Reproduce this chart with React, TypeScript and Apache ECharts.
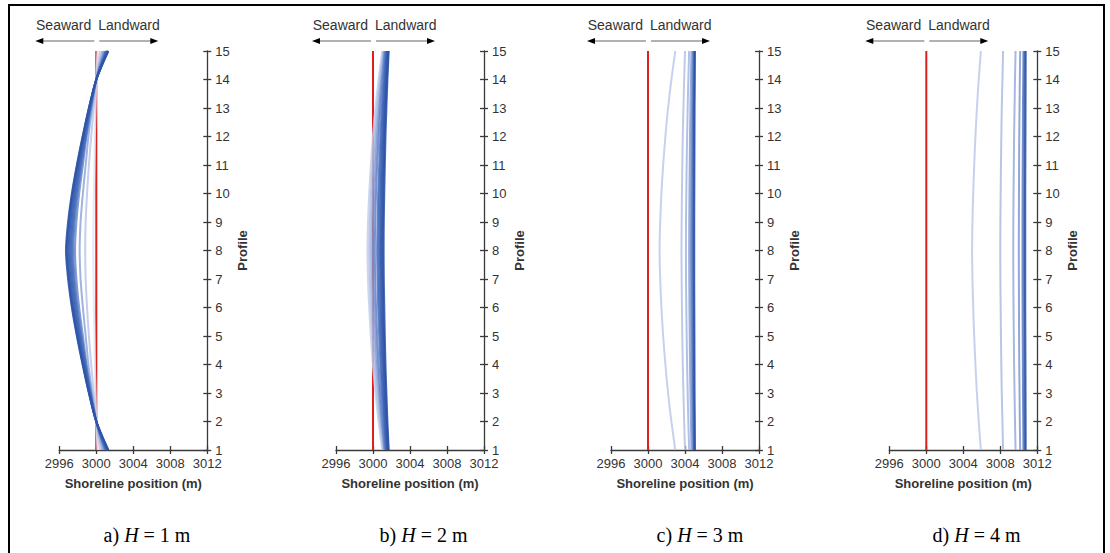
import React, { useEffect, useRef } from "react";
import * as echarts from "echarts";

// Profiles (y axis)
const profiles = [1, 2, 3, 4, 5, 6, 7, 8, 9, 10, 11, 12, 13, 14, 15];
const xMin = 2996;
const xMax = 3012;
const xStep = 4;
const initialShoreline = 3000;
const waveHeights = [1, 2, 3, 4];
const panelLetters = ["a)", "b)", "c)", "d)"];

// Shoreline positions per profile 1..15, light (early) -> dark (late)
const panelA: number[][] = [
  [3000.13, 3000, 2999.92, 2999.85, 2999.8, 2999.74, 2999.7, 2999.67, 2999.7, 2999.74, 2999.8, 2999.85, 2999.92, 3000, 3000.13],
  [3000.4, 3000, 2999.72, 2999.45, 2999.2, 2999.0, 2998.85, 2998.8, 2998.85, 2999.0, 2999.2, 2999.45, 2999.72, 3000, 3000.4],
  [3000.65, 3000, 2999.55, 2999.15, 2998.85, 2998.55, 2998.3, 2998.2, 2998.3, 2998.55, 2998.85, 2999.15, 2999.55, 3000, 3000.65],
  [3000.85, 3000, 2999.45, 2998.95, 2998.55, 2998.15, 2997.85, 2997.7, 2997.85, 2998.15, 2998.55, 2998.95, 2999.45, 3000, 3000.85],
  [3000.99, 3000, 2999.39, 2998.88, 2998.4, 2997.98, 2997.66, 2997.5, 2997.66, 2997.98, 2998.4, 2998.88, 2999.39, 3000, 3000.99],
  [3001.05, 3000, 2999.35, 2998.8, 2998.3, 2997.86, 2997.53, 2997.36, 2997.53, 2997.86, 2998.3, 2998.8, 2999.35, 3000, 3001.05],
  [3001.1, 3000, 2999.32, 2998.75, 2998.22, 2997.76, 2997.42, 2997.24, 2997.42, 2997.76, 2998.22, 2998.75, 2999.32, 3000, 3001.1],
  [3001.16, 3000, 2999.29, 2998.69, 2998.14, 2997.66, 2997.31, 2997.12, 2997.31, 2997.66, 2998.14, 2998.69, 2999.29, 3000, 3001.16],
  [3001.21, 3000, 2999.26, 2998.63, 2998.06, 2997.56, 2997.2, 2997.01, 2997.2, 2997.56, 2998.06, 2998.63, 2999.26, 3000, 3001.21],
  [3001.25, 3000, 2999.23, 2998.58, 2997.99, 2997.47, 2997.1, 2996.9, 2997.1, 2997.47, 2997.99, 2998.58, 2999.23, 3000, 3001.25],
  [3001.28, 3000, 2999.21, 2998.55, 2997.94, 2997.41, 2997.02, 2996.8, 2997.02, 2997.41, 2997.94, 2998.55, 2999.21, 3000, 3001.28],
  [3001.3, 3000, 2999.2, 2998.52, 2997.9, 2997.36, 2996.95, 2996.72, 2996.95, 2997.36, 2997.9, 2998.52, 2999.2, 3000, 3001.3],
];

const panelB: number[][] = [
  [3001.0, 3000.6, 3000.26, 2999.99, 2999.77, 2999.59, 2999.46, 2999.4, 2999.46, 2999.59, 2999.77, 2999.99, 3000.26, 3000.6, 3001.0],
  [3001.1, 3000.73, 3000.41, 3000.16, 2999.95, 2999.78, 2999.66, 2999.6, 2999.66, 2999.78, 2999.95, 3000.16, 3000.41, 3000.73, 3001.1],
  [3001.2, 3000.85, 3000.56, 3000.32, 3000.12, 2999.97, 2999.86, 2999.8, 2999.86, 2999.97, 3000.12, 3000.32, 3000.56, 3000.85, 3001.2],
  [3001.25, 3000.94, 3000.68, 3000.46, 3000.29, 3000.15, 3000.05, 3000.0, 3000.05, 3000.15, 3000.29, 3000.46, 3000.68, 3000.94, 3001.25],
  [3001.3, 3001.03, 3000.79, 3000.61, 3000.45, 3000.33, 3000.24, 3000.2, 3000.24, 3000.33, 3000.45, 3000.61, 3000.79, 3001.03, 3001.3],
  [3001.4, 3001.16, 3000.96, 3000.8, 3000.67, 3000.56, 3000.49, 3000.45, 3000.49, 3000.56, 3000.67, 3000.8, 3000.96, 3001.16, 3001.4],
  [3001.45, 3001.24, 3001.06, 3000.91, 3000.8, 3000.7, 3000.63, 3000.6, 3000.63, 3000.7, 3000.8, 3000.91, 3001.06, 3001.24, 3001.45],
  [3001.5, 3001.31, 3001.16, 3001.03, 3000.92, 3000.84, 3000.78, 3000.75, 3000.78, 3000.84, 3000.92, 3001.03, 3001.16, 3001.31, 3001.5],
  [3001.55, 3001.38, 3001.23, 3001.11, 3001.01, 3000.93, 3000.88, 3000.85, 3000.88, 3000.93, 3001.01, 3001.11, 3001.23, 3001.38, 3001.55],
  [3001.6, 3001.44, 3001.3, 3001.19, 3001.1, 3001.03, 3000.98, 3000.95, 3000.98, 3001.03, 3001.1, 3001.19, 3001.3, 3001.44, 3001.6],
  [3001.65, 3001.5, 3001.37, 3001.27, 3001.19, 3001.12, 3001.07, 3001.05, 3001.07, 3001.12, 3001.19, 3001.27, 3001.37, 3001.5, 3001.65],
  [3001.7, 3001.56, 3001.45, 3001.35, 3001.28, 3001.22, 3001.17, 3001.15, 3001.17, 3001.22, 3001.28, 3001.35, 3001.45, 3001.56, 3001.7],
];

const panelC: number[][] = [
  [3002.95, 3002.53, 3002.17, 3001.88, 3001.64, 3001.45, 3001.32, 3001.25, 3001.32, 3001.45, 3001.64, 3001.88, 3002.17, 3002.53, 3002.95],
  [3004.0, 3003.91, 3003.83, 3003.76, 3003.71, 3003.67, 3003.64, 3003.62, 3003.64, 3003.67, 3003.71, 3003.76, 3003.83, 3003.91, 3004.0],
  [3004.45, 3004.36, 3004.29, 3004.23, 3004.18, 3004.14, 3004.11, 3004.1, 3004.11, 3004.14, 3004.18, 3004.23, 3004.29, 3004.36, 3004.45],
  [3004.7, 3004.64, 3004.59, 3004.54, 3004.51, 3004.48, 3004.46, 3004.45, 3004.46, 3004.48, 3004.51, 3004.54, 3004.59, 3004.64, 3004.7],
  [3004.85, 3004.8, 3004.76, 3004.72, 3004.7, 3004.67, 3004.66, 3004.65, 3004.66, 3004.67, 3004.7, 3004.72, 3004.76, 3004.8, 3004.85],
  [3004.95, 3004.91, 3004.88, 3004.86, 3004.83, 3004.82, 3004.81, 3004.8, 3004.81, 3004.82, 3004.83, 3004.86, 3004.88, 3004.91, 3004.95],
  [3005.02, 3005.0, 3004.97, 3004.96, 3004.94, 3004.93, 3004.92, 3004.92, 3004.92, 3004.93, 3004.94, 3004.96, 3004.97, 3005.0, 3005.02],
  [3005.08, 3005.06, 3005.04, 3005.03, 3005.02, 3005.01, 3005.0, 3005.0, 3005.0, 3005.01, 3005.02, 3005.03, 3005.04, 3005.06, 3005.08],
];

const panelD: number[][] = [
  [3005.9, 3005.67, 3005.47, 3005.31, 3005.18, 3005.07, 3004.99, 3004.95, 3004.99, 3005.07, 3005.18, 3005.31, 3005.47, 3005.67, 3005.9],
  [3008.3, 3008.23, 3008.16, 3008.11, 3008.07, 3008.04, 3008.01, 3008.0, 3008.01, 3008.04, 3008.07, 3008.11, 3008.16, 3008.23, 3008.3],
  [3009.65, 3009.59, 3009.54, 3009.49, 3009.46, 3009.43, 3009.41, 3009.4, 3009.41, 3009.43, 3009.46, 3009.49, 3009.54, 3009.59, 3009.65],
  [3010.15, 3010.11, 3010.08, 3010.05, 3010.03, 3010.02, 3010.01, 3010.0, 3010.01, 3010.02, 3010.03, 3010.05, 3010.08, 3010.11, 3010.15],
  [3010.5, 3010.48, 3010.45, 3010.44, 3010.42, 3010.41, 3010.4, 3010.4, 3010.4, 3010.41, 3010.42, 3010.44, 3010.45, 3010.48, 3010.5],
  [3010.65, 3010.63, 3010.62, 3010.61, 3010.6, 3010.59, 3010.58, 3010.58, 3010.58, 3010.59, 3010.6, 3010.61, 3010.62, 3010.63, 3010.65],
  [3010.75, 3010.74, 3010.73, 3010.72, 3010.71, 3010.7, 3010.7, 3010.7, 3010.7, 3010.7, 3010.71, 3010.72, 3010.73, 3010.74, 3010.75],
];

const panels = [panelA, panelB, panelC, panelD];

// style
const panelColors = [
  ["#dfe5f4", "#b9c7e8", "#8fa5da", "#6a88cc", "#4e73bf", "#486ebc", "#4369b8", "#3e65b5", "#3a61b2", "#365dae", "#3259ab", "#2d54a7"],
  ["#c3cfec", "#adbde4", "#95abdc", "#7c97d3", "#5f80c8", "#4d72bf", "#4569b9", "#3f64b5", "#3a60b2", "#365cae", "#3157aa", "#2c52a5"],
  ["#bccaea", "#b2c1e6", "#a3b5e0", "#8aa1d7", "#6c89cb", "#4f72bf", "#3a60b2", "#2a50a3"],
  ["#bccaea", "#abbbe3", "#97acdc", "#7f97d3", "#5a7cc5", "#3b61b3", "#2a50a3"],
];
const gridLefts = [59.3, 336, 611, 889.3];
const gridWidth = 148;
const gridTop = 51;
const gridHeight = 399;
const axisColor = "#3a3a3a";
const sans = "'Liberation Sans', Arial, sans-serif";
const serif = "'Liberation Serif', 'Times New Roman', serif";

export default function App() {
  const ref = useRef<HTMLDivElement>(null);

  useEffect(() => {
    if (!ref.current) return;
    const chart = echarts.init(ref.current, undefined, { renderer: "svg" });

    const grids: any[] = [];
    const xAxes: any[] = [];
    const yAxes: any[] = [];
    const series: any[] = [];

    panels.forEach((lines, i) => {
      grids.push({ left: gridLefts[i], top: gridTop, width: gridWidth, height: gridHeight, containLabel: false });
      xAxes.push({
        gridIndex: i, type: "value", min: xMin, max: xMax, interval: xStep, position: "bottom",
        axisLine: { show: true, onZero: false, lineStyle: { color: axisColor, width: 1.3 } },
        axisTick: { show: true, inside: false, length: 4, lineStyle: { color: axisColor, width: 1.3 } },
        axisLabel: { show: true, margin: 7, fontSize: 13, color: "#333", fontFamily: sans, formatter: (v: number) => String(v) },
        splitLine: { show: false },
        name: "Shoreline position (m)", nameLocation: "middle", nameGap: 27,
        nameTextStyle: { fontSize: 13, fontWeight: "bold", color: "#333", fontFamily: sans },
      });
      xAxes.push({
        gridIndex: i, type: "value", min: xMin, max: xMax, interval: xStep, position: "bottom",
        axisLine: { show: false, onZero: false },
        axisTick: { show: true, inside: true, length: 4, lineStyle: { color: axisColor, width: 1.3 } },
        axisLabel: { show: false }, splitLine: { show: false },
      });
      yAxes.push({
        gridIndex: i, type: "value", min: 1, max: 15, interval: 1, position: "right",
        axisLine: { show: true, onZero: false, lineStyle: { color: axisColor, width: 1.3 } },
        axisTick: { show: true, inside: false, length: 4, lineStyle: { color: axisColor, width: 1.3 } },
        axisLabel: { show: true, margin: 8, fontSize: 13, color: "#333", fontFamily: sans, formatter: (v: number) => String(v) },
        splitLine: { show: false },
        name: "Profile", nameLocation: "middle", nameGap: 29, nameRotate: 90,
        nameTextStyle: { fontSize: 13, fontWeight: "bold", color: "#333", fontFamily: sans },
      });
      yAxes.push({
        gridIndex: i, type: "value", min: 1, max: 15, interval: 1, position: "right",
        axisLine: { show: false, onZero: false },
        axisTick: { show: true, inside: true, length: 4, lineStyle: { color: axisColor, width: 1.3 } },
        axisLabel: { show: false }, splitLine: { show: false },
      });

      series.push({
        type: "line", xAxisIndex: i * 2, yAxisIndex: i * 2, silent: true,
        data: [[initialShoreline, profiles[0]], [initialShoreline, profiles[profiles.length - 1]]],
        showSymbol: false, symbol: "none",
        lineStyle: { color: "#dd1f1f", width: 2 },
      });
      lines.forEach((vals, k) => {
        series.push({
          type: "line", xAxisIndex: i * 2, yAxisIndex: i * 2, silent: true,
          data: vals.map((v, j) => [v, profiles[j]]),
          showSymbol: false, symbol: "none", smooth: 0.3,
          lineStyle: { color: panelColors[i][k], width: 2, opacity: 0.85 },
        });
      });
    });

    chart.setOption({
      animation: false,
      backgroundColor: "#ffffff",
      grid: grids,
      xAxis: xAxes,
      yAxis: yAxes,
      series,
    });

    const graphics: any[] = [
      {
        type: "rect", shape: { x: 9, y: 5, width: 1095, height: 560 },
        style: { fill: "transparent", stroke: "#000", lineWidth: 2 }, silent: true,
      },
    ];
    panels.forEach((_, i) => {
      const x0 = chart.convertToPixel({ xAxisIndex: i * 2 } as any, initialShoreline) as number;
      graphics.push(
        { type: "text", x: x0 - 5, y: 25, style: { text: "Seaward", align: "right", verticalAlign: "middle", font: `14px ${sans}`, fill: "#333" } },
        { type: "text", x: x0 + 2, y: 25, style: { text: "Landward", align: "left", verticalAlign: "middle", font: `14px ${sans}`, fill: "#333" } },
        { type: "line", shape: { x1: x0 - 2, y1: 41, x2: x0 - 54, y2: 41 }, style: { stroke: "#666", lineWidth: 1.2 } },
        { type: "polygon", shape: { points: [[x0 - 61, 41], [x0 - 53, 38], [x0 - 53, 44]] }, style: { fill: "#000" } },
        { type: "line", shape: { x1: x0 + 3, y1: 41, x2: x0 + 55, y2: 41 }, style: { stroke: "#666", lineWidth: 1.2 } },
        { type: "polygon", shape: { points: [[x0 + 62, 41], [x0 + 54, 38], [x0 + 54, 44]] }, style: { fill: "#000" } },
        {
          type: "text", x: 147 + 276.5 * i, y: 535,
          style: {
            text: `${panelLetters[i]} {i|H} = ${waveHeights[i]} m`,
            align: "center", verticalAlign: "middle",
            font: `20px ${serif}`, fill: "#000",
            rich: { i: { fontStyle: "italic", fontSize: 20, fontFamily: serif, fill: "#000" } },
          },
        }
      );
    });
    chart.setOption({ graphic: graphics });

    return () => chart.dispose();
  }, []);

  return (
    <div
      ref={ref}
      style={{ position: "fixed", left: 0, top: 0, width: 1110, height: 553, background: "#fff" }}
    />
  );
}
